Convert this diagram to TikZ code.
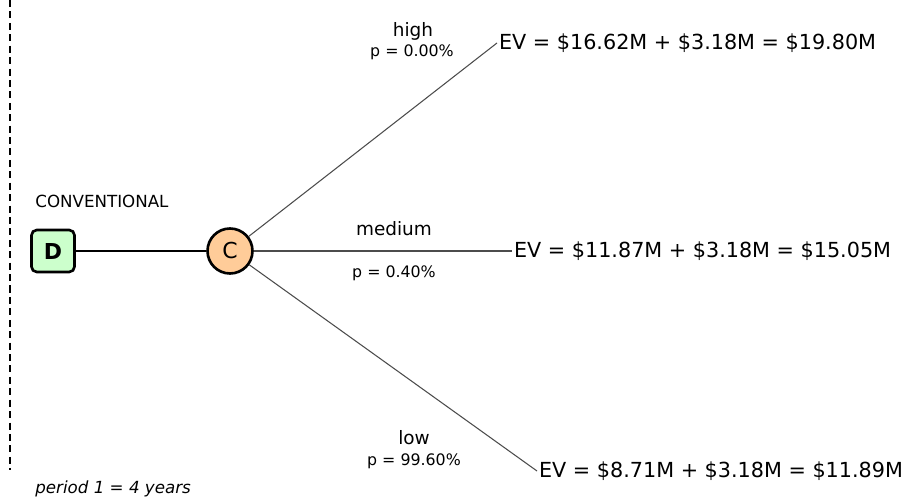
\documentclass[tikz,border=0pt]{standalone}
\usepackage{fontspec}
\setmainfont{DejaVu Sans}
\usetikzlibrary{positioning}

\definecolor{decfill}{HTML}{CCFFCC}
\definecolor{chancefill}{HTML}{FFCC99}

\begin{document}
\begin{tikzpicture}[x=0.02cm,y=-0.02cm]
    % Styles for nodes and lines
    \tikzset{
      decision/.style={rectangle, rounded corners=3pt, draw=black, line width=1.5pt, fill=decfill, minimum width=0.86cm, minimum height=0.84cm, font=\fontsize{12.5}{14}\selectfont\bfseries},
      chance/.style={circle, draw=black, line width=1.5pt, fill=chancefill, minimum size=0.9cm, inner sep=0pt, font=\fontsize{12.5}{14}\selectfont},
      branch/.style={line width=0.6pt, draw=black!70},
      ev/.style={anchor=west, inner sep=1pt, font=\fontsize{11.8}{14}\selectfont},
      lbl/.style={font=\fontsize{10.5}{12}\selectfont, inner sep=0pt},
      prob/.style={font=\fontsize{9}{11}\selectfont, inner sep=0pt}
    }

    % Frame of the picture
    \useasboundingbox[fill=white] (0,0) rectangle (907,499);
    \coordinate (top) at (10,0);
    \coordinate (bot) at (10,470);
    \draw[dashed, dash pattern=on 4pt off 2.5pt, line width=0.6pt] (top) -- (bot);

    % Nodes with explicit coordinates
    \node[decision] (D) at (53,251) {D};
    \node[chance] (C) at (230,251) {\raisebox{-3pt}{C}};
    \node[anchor=west, inner sep=0pt, font=\fontsize{9.5}{11}\selectfont] (conv) at (35,201) {CONVENTIONAL};

    \node[ev] (evhigh) at (497,43) {EV = \$16.62M + \$3.18M = \$19.80M};
    \node[ev] (evmed) at (512,251) {EV = \$11.87M + \$3.18M = \$15.05M};
    \node[ev] (evlow) at (537,471) {EV = \$8.71M + \$3.18M = \$11.89M};

    \node[lbl] (high) at (413,31) {high};
    \node[prob] (phigh) at (412,52) {p = 0.00\%};
    \node[lbl] (medium) at (394,229) {medium};
    \node[prob] (pmed) at (394,273) {p = 0.40\%};
    \node[lbl] (low) at (414,438) {low};
    \node[prob] (plow) at (414,461) {p = 99.60\%};

    \node[anchor=west, inner sep=0pt, font=\fontsize{9.5}{11}\selectfont\itshape] (period) at (35,489) {period 1 = 4 years};

    % Branches
    \draw[line width=0.6pt] (D) -- (C);
    \draw[branch] (C) -- (evhigh.west);
    \draw[branch] (C) -- (evmed.west);
    \draw[branch] (C) -- (evlow.west);

\end{tikzpicture}
\end{document}
